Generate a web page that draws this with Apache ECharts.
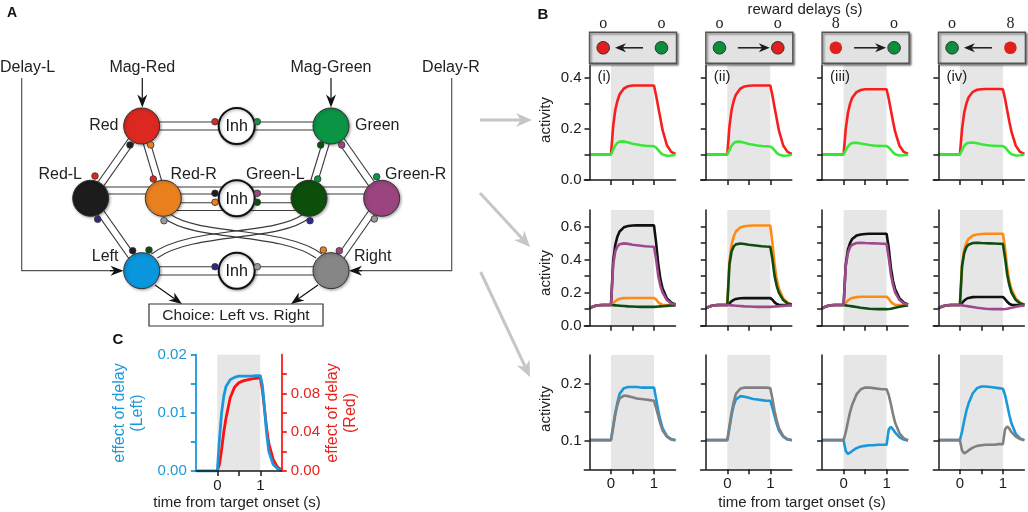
<!DOCTYPE html>
<html><head><meta charset="utf-8">
<script src="https://cdn.jsdelivr.net/npm/echarts@6/dist/echarts.min.js"></script>
<style>html,body{margin:0;padding:0;background:#fff}#c{width:1028px;height:512px}</style>
</head><body><div id="c"></div>
<script>
// ---------- data ----------
const T = [-0.5,-0.4,-0.3,-0.2,-0.1,0,0.05,0.1,0.15,0.2,0.3,0.4,0.5,0.6,0.7,0.8,0.9,1,1.05,1.1,1.15,1.2,1.3,1.4,1.5];

// Row 1 (Red / Green units)
const r1_red_i    = [0.1,0.1,0.1,0.1,0.1,0.1,0.21,0.275,0.31,0.335,0.358,0.367,0.37,0.37,0.37,0.37,0.37,0.37,0.33,0.285,0.24,0.195,0.136,0.11,0.102];
const r1_green_i  = [0.1,0.1,0.1,0.1,0.1,0.1,0.118,0.135,0.145,0.15,0.151,0.147,0.142,0.139,0.136,0.134,0.133,0.132,0.127,0.117,0.107,0.1,0.095,0.096,0.099];
const r1_red_ii   = [0.1,0.1,0.1,0.1,0.1,0.1,0.21,0.274,0.31,0.334,0.357,0.366,0.369,0.37,0.37,0.37,0.37,0.37,0.33,0.284,0.239,0.194,0.135,0.11,0.102];
const r1_green_ii = [0.1,0.1,0.1,0.1,0.1,0.1,0.117,0.134,0.144,0.149,0.15,0.146,0.141,0.138,0.135,0.133,0.132,0.131,0.126,0.116,0.106,0.1,0.095,0.096,0.099];
const r1_red_iii  = [0.1,0.1,0.1,0.1,0.1,0.1,0.2,0.262,0.298,0.322,0.344,0.352,0.355,0.355,0.355,0.355,0.355,0.355,0.318,0.273,0.228,0.188,0.134,0.11,0.102];
const r1_green_iii= [0.1,0.1,0.1,0.1,0.1,0.1,0.116,0.131,0.14,0.145,0.146,0.143,0.14,0.137,0.135,0.134,0.133,0.133,0.128,0.118,0.108,0.101,0.096,0.097,0.099];
const r1_red_iv   = [0.1,0.1,0.1,0.1,0.1,0.1,0.2,0.263,0.299,0.323,0.345,0.353,0.355,0.356,0.356,0.356,0.356,0.355,0.318,0.273,0.228,0.188,0.134,0.11,0.102];
const r1_green_iv = [0.1,0.1,0.1,0.1,0.1,0.1,0.117,0.133,0.142,0.146,0.147,0.144,0.14,0.137,0.135,0.134,0.133,0.133,0.128,0.118,0.108,0.101,0.096,0.097,0.099];

// Row 2 (Red-L black, Red-R orange, Green-L dark green, Green-R purple)
const r2_black_i    = [0.105,0.118,0.124,0.125,0.125,0.125,0.39,0.49,0.54,0.57,0.595,0.603,0.606,0.607,0.607,0.607,0.607,0.607,0.5,0.37,0.28,0.225,0.165,0.14,0.128];
const r2_orange_i   = [0.105,0.118,0.124,0.125,0.125,0.125,0.135,0.148,0.157,0.163,0.167,0.168,0.168,0.168,0.168,0.168,0.168,0.168,0.158,0.142,0.132,0.127,0.125,0.125,0.125];
const r2_dkgreen_i  = [0.105,0.118,0.124,0.125,0.125,0.125,0.124,0.123,0.122,0.121,0.119,0.117,0.116,0.115,0.114,0.114,0.114,0.114,0.115,0.116,0.117,0.118,0.12,0.122,0.123];
const r2_purple_i   = [0.105,0.118,0.124,0.125,0.125,0.125,0.37,0.45,0.48,0.493,0.498,0.495,0.49,0.487,0.484,0.481,0.479,0.478,0.4,0.3,0.24,0.2,0.155,0.135,0.128];
const r2_black_ii   = [0.105,0.118,0.124,0.125,0.125,0.125,0.135,0.148,0.156,0.162,0.166,0.167,0.167,0.167,0.167,0.167,0.167,0.167,0.157,0.141,0.131,0.127,0.125,0.125,0.125];
const r2_orange_ii  = [0.105,0.118,0.124,0.125,0.125,0.125,0.39,0.49,0.54,0.57,0.594,0.602,0.605,0.606,0.606,0.606,0.606,0.606,0.5,0.37,0.28,0.225,0.165,0.14,0.128];
const r2_dkgreen_ii = [0.105,0.118,0.124,0.125,0.125,0.125,0.37,0.45,0.48,0.492,0.497,0.494,0.49,0.487,0.484,0.481,0.479,0.478,0.4,0.3,0.24,0.2,0.155,0.135,0.128];
const r2_purple_ii  = [0.105,0.118,0.124,0.125,0.125,0.125,0.124,0.123,0.122,0.121,0.119,0.117,0.116,0.115,0.114,0.114,0.114,0.114,0.115,0.116,0.117,0.118,0.12,0.122,0.123];
const r2_black_iii  = [0.105,0.118,0.124,0.125,0.125,0.125,0.37,0.46,0.5,0.525,0.545,0.552,0.555,0.556,0.556,0.556,0.556,0.556,0.47,0.35,0.27,0.22,0.165,0.14,0.128];
const r2_orange_iii = [0.105,0.118,0.124,0.125,0.125,0.125,0.138,0.152,0.162,0.168,0.173,0.175,0.175,0.175,0.175,0.175,0.175,0.175,0.163,0.145,0.133,0.127,0.125,0.125,0.125];
const r2_dkgreen_iii= [0.105,0.118,0.124,0.125,0.125,0.125,0.123,0.121,0.119,0.117,0.113,0.109,0.106,0.103,0.101,0.1,0.1,0.1,0.101,0.103,0.106,0.109,0.115,0.119,0.122];
const r2_purple_iii = [0.105,0.118,0.124,0.125,0.125,0.125,0.36,0.44,0.475,0.49,0.5,0.502,0.5,0.499,0.498,0.497,0.496,0.495,0.41,0.31,0.245,0.2,0.155,0.135,0.127];
const r2_black_iv   = [0.105,0.118,0.124,0.125,0.125,0.125,0.138,0.152,0.162,0.168,0.173,0.174,0.174,0.174,0.174,0.174,0.174,0.174,0.162,0.145,0.133,0.127,0.125,0.125,0.125];
const r2_orange_iv  = [0.105,0.118,0.124,0.125,0.125,0.125,0.37,0.46,0.5,0.525,0.545,0.552,0.555,0.556,0.556,0.556,0.556,0.556,0.47,0.35,0.27,0.22,0.165,0.14,0.128];
const r2_dkgreen_iv = [0.105,0.118,0.124,0.125,0.125,0.125,0.36,0.44,0.475,0.49,0.5,0.502,0.5,0.499,0.498,0.497,0.496,0.495,0.41,0.31,0.245,0.2,0.155,0.135,0.127];
const r2_purple_iv  = [0.105,0.118,0.124,0.125,0.125,0.125,0.123,0.121,0.119,0.117,0.113,0.109,0.106,0.103,0.101,0.1,0.1,0.1,0.101,0.103,0.106,0.109,0.115,0.119,0.122];

// Row 3 (Left blue, Right gray)
const r3_blue_i   = [0.101,0.101,0.101,0.101,0.101,0.101,0.126,0.149,0.167,0.182,0.192,0.194,0.194,0.194,0.193,0.193,0.193,0.193,0.173,0.152,0.135,0.122,0.108,0.103,0.101];
const r3_gray_i   = [0.101,0.101,0.101,0.101,0.101,0.101,0.123,0.146,0.163,0.174,0.179,0.178,0.176,0.174,0.173,0.172,0.171,0.17,0.157,0.143,0.129,0.118,0.107,0.102,0.101];
const r3_blue_ii  = [0.101,0.101,0.101,0.101,0.101,0.101,0.122,0.145,0.162,0.172,0.178,0.177,0.175,0.173,0.172,0.171,0.17,0.17,0.157,0.143,0.129,0.118,0.107,0.102,0.101];
const r3_gray_ii  = [0.101,0.101,0.101,0.101,0.101,0.101,0.126,0.15,0.168,0.182,0.191,0.193,0.193,0.193,0.193,0.193,0.193,0.192,0.173,0.152,0.135,0.122,0.108,0.103,0.101];
const r3_blue_iii = [0.101,0.101,0.101,0.101,0.101,0.101,0.082,0.077,0.079,0.082,0.087,0.09,0.091,0.092,0.092,0.093,0.093,0.093,0.12,0.124,0.12,0.114,0.106,0.102,0.1];
const r3_gray_iii = [0.101,0.101,0.101,0.101,0.101,0.101,0.115,0.133,0.15,0.163,0.181,0.19,0.193,0.193,0.192,0.191,0.19,0.19,0.18,0.164,0.146,0.131,0.113,0.104,0.101];
const r3_blue_iv  = [0.101,0.101,0.101,0.101,0.101,0.101,0.116,0.135,0.152,0.165,0.183,0.192,0.195,0.195,0.194,0.193,0.192,0.191,0.18,0.163,0.145,0.13,0.112,0.104,0.101];
const r3_gray_iv  = [0.101,0.101,0.101,0.101,0.101,0.101,0.083,0.078,0.08,0.083,0.088,0.091,0.092,0.093,0.093,0.093,0.094,0.094,0.12,0.125,0.121,0.115,0.107,0.103,0.101];

// Panel C
const c_blue = [0,0,0,0,0,0,0.0055,0.01,0.0128,0.0145,0.0157,0.0161,0.0163,0.0163,0.0163,0.0163,0.0164,0.0164,0.0147,0.0106,0.0062,0.0033,0.0011,0.0004,0.0001];
const c_red  = [null,null,null,null,null,0,0.007,0.022,0.04,0.054,0.0755,0.0865,0.091,0.093,0.094,0.095,0.0955,0.096,0.083,0.063,0.043,0.028,0.012,0.004,0.001];

// tick labels
const xTicks = [0,0.5,1];
const xLabels = [0,1];
const yTicksRow1 = [0,0.1,0.2,0.3,0.4];  const yLabelsRow1 = [0,0.2,0.4];
const yTicksRow2 = [0,0.1,0.2,0.3,0.4,0.5,0.6]; const yLabelsRow2 = [0,0.2,0.4,0.6];
const yTicksRow3 = [0.1,0.15,0.2]; const yLabelsRow3 = [0.1,0.2];
const cLeftTicks = [0,0.005,0.01,0.015,0.02]; const cLeftLabels = [0,0.01,0.02];
const cRightTicks = [0,0.02,0.04,0.06,0.08,0.1]; const cRightLabels = [0,0.04,0.08];
const panelNames = ['(i)','(ii)','(iii)','(iv)'];
const delayLeft = ['o','o','8','o'];
const delayRight = ['o','o','o','8'];

// ---------- styles / layout ----------
const RED='#f81e1e', LIME='#3be63b', BLACK='#111111', ORANGE='#ff8c12', DKGREEN='#0f4c10', PURPLE='#9c4a8d', BLUE='#1a98da', GRAY='#808080', SHADE='#e6e6e6', AX='#1a1a1a';
const FONT='"Liberation Sans", Arial, sans-serif';
const colLeft=[589.5,705.8,822.1,938.4];
const PX=43, XMIN=-0.62, XMAX=1.5, YOFF=-(0.12*PX);
const rows=[{top:65,h:115,min:0,max:0.45,ticks:yTicksRow1,labels:yLabelsRow1},
            {top:210,h:115.7,min:0,max:0.7,ticks:yTicksRow2,labels:yLabelsRow2},
            {top:355,h:114.3,min:0.05,max:0.25,ticks:yTicksRow3,labels:yLabelsRow3}];
const panelSeries=[
 [[r1_red_i,RED],[r1_green_i,LIME]],[[r1_red_ii,RED],[r1_green_ii,LIME]],[[r1_red_iii,RED],[r1_green_iii,LIME]],[[r1_red_iv,RED],[r1_green_iv,LIME]],
 [[r2_black_i,BLACK],[r2_orange_i,ORANGE],[r2_dkgreen_i,DKGREEN],[r2_purple_i,PURPLE]],
 [[r2_black_ii,BLACK],[r2_orange_ii,ORANGE],[r2_dkgreen_ii,DKGREEN],[r2_purple_ii,PURPLE]],
 [[r2_black_iii,BLACK],[r2_orange_iii,ORANGE],[r2_dkgreen_iii,DKGREEN],[r2_purple_iii,PURPLE]],
 [[r2_black_iv,BLACK],[r2_orange_iv,ORANGE],[r2_dkgreen_iv,DKGREEN],[r2_purple_iv,PURPLE]],
 [[r3_blue_i,BLUE],[r3_gray_i,GRAY]],[[r3_blue_ii,BLUE],[r3_gray_ii,GRAY]],[[r3_blue_iii,BLUE],[r3_gray_iii,GRAY]],[[r3_blue_iv,BLUE],[r3_gray_iv,GRAY]]
];

const grid=[], xAxis=[], yAxis=[], series=[];
const lineS={color:AX,width:1.5};
for(let r=0;r<3;r++){ for(let c=0;c<4;c++){
  const k=r*4+c, R=rows[r];
  grid.push({left:colLeft[c]+XMIN*PX+0.5*PX, top:R.top, width:(XMAX-XMIN)*PX, height:R.h, outerBoundsMode:'none', containLabel:false});
  xAxis.push({gridIndex:k,type:'value',min:XMIN,max:XMAX,z:5,axisLine:{onZero:false,lineStyle:lineS},
    axisTick:{show:true,length:5,customValues:xTicks,lineStyle:lineS},
    axisLabel:{show:r===2,customValues:xLabels,formatter:v=>String(v),fontSize:15,color:AX,margin:7,fontFamily:FONT},splitLine:{show:false}});
  yAxis.push({gridIndex:k,type:'value',min:R.min,max:R.max,offset:YOFF,z:5,axisLine:{show:true,onZero:false,lineStyle:lineS},
    axisTick:{show:true,length:5,customValues:R.ticks,lineStyle:lineS},
    axisLabel:{show:c===0,customValues:R.labels,formatter:v=>v.toFixed(1),fontSize:15,color:AX,margin:8,fontFamily:FONT},splitLine:{show:false}});
  panelSeries[k].forEach(([arr,col],j)=>{
    const s={type:'line',xAxisIndex:k,yAxisIndex:k,data:T.map((t,i)=>[t,arr[i]]),showSymbol:false,symbol:'none',silent:true,z:3,
      lineStyle:{width:2.6,color:col},itemStyle:{color:col}};
    if(j===0) s.markArea={silent:true,itemStyle:{color:SHADE},data:[[{xAxis:0},{xAxis:1}]]};
    series.push(s);
  });
}}
// Panel C
grid.push({left:195.8,top:354.7,width:86,height:116.3,outerBoundsMode:'none',containLabel:false});
xAxis.push({gridIndex:12,type:'value',min:-0.5,max:1.5,z:5,axisLine:{onZero:false,lineStyle:lineS},
  axisTick:{length:5,customValues:xTicks,lineStyle:lineS},
  axisLabel:{customValues:xLabels,formatter:v=>String(v),fontSize:15,color:AX,margin:7,fontFamily:FONT},splitLine:{show:false}});
yAxis.push({gridIndex:12,type:'value',position:'left',min:0,max:0.02,z:5,axisLine:{show:true,onZero:false,lineStyle:{color:BLUE,width:1.8}},
  axisTick:{length:5,customValues:cLeftTicks,lineStyle:{color:BLUE,width:1.8}},
  axisLabel:{customValues:cLeftLabels,formatter:v=>v.toFixed(2),fontSize:15,color:BLUE,margin:9,fontFamily:FONT},splitLine:{show:false}});
yAxis.push({gridIndex:12,type:'value',position:'right',min:0,max:0.12,z:5,axisLine:{show:true,onZero:false,lineStyle:{color:RED,width:1.8}},
  axisTick:{length:5,customValues:cRightTicks,lineStyle:{color:RED,width:1.8}},
  axisLabel:{customValues:cRightLabels,formatter:v=>v.toFixed(2),fontSize:15,color:'#e8221c',margin:9,fontFamily:FONT},splitLine:{show:false}});
series.push({type:'line',xAxisIndex:12,yAxisIndex:13,data:T.map((t,i)=>[t,c_red[i]]),showSymbol:false,symbol:'none',silent:true,z:3,
  lineStyle:{width:2.8,color:'#ff1010'},markArea:{silent:true,itemStyle:{color:SHADE},data:[[{xAxis:0},{xAxis:1}]]}});
series.push({type:'line',xAxisIndex:12,yAxisIndex:12,data:T.map((t,i)=>[t,c_blue[i]]),showSymbol:false,symbol:'none',silent:true,z:4,
  lineStyle:{width:2.8,color:BLUE}});

// ---------- graphics ----------
const els=[];
function txt(x,y,s,o){o=o||{};const a=o.align||'center';
  els.push({type:'text',x:x,y:y,rotation:o.rot||0,z:o.z||20,silent:true,
    style:{text:s,fill:o.color||'#222',font:(o.weight||'normal')+' '+(o.size||15)+'px '+(o.family||FONT),
      align:a,textAlign:a,verticalAlign:'middle',textVerticalAlign:'middle',lineHeight:o.lh||undefined}});}
function ln(x1,y1,x2,y2,c,w,z){els.push({type:'line',silent:true,z:z||2,shape:{x1,y1,x2,y2},style:{stroke:c||'#333',lineWidth:w||1.1}});}
function circ(cx,cy,r,fill,stroke,w,z,shadow){const st={fill:fill,stroke:stroke||null,lineWidth:w||1};
  if(shadow){st.shadowBlur=3;st.shadowColor='rgba(0,0,0,0.35)';st.shadowOffsetX=1;st.shadowOffsetY=1;}
  els.push({type:'circle',silent:true,z:z||5,shape:{cx,cy,r},style:st});}
function arrow(x1,y1,x2,y2,c,w,hl,hw,z){const a=Math.atan2(y2-y1,x2-x1),ca=Math.cos(a),sa=Math.sin(a);
  const bx=x2-hl*ca,by=y2-hl*sa,px=-sa*hw/2,py=ca*hw/2,nx=x2-hl*0.7*ca,ny=y2-hl*0.7*sa;
  els.push({type:'line',silent:true,z:z||3,shape:{x1,y1,x2:nx,y2:ny},style:{stroke:c,lineWidth:w}});
  els.push({type:'polygon',silent:true,z:z||3,shape:{points:[[x2,y2],[bx+px,by+py],[nx,ny],[bx-px,by-py]]},style:{fill:c}});}
function dbl(a,b,off,c){const dx=b[0]-a[0],dy=b[1]-a[1],L=Math.hypot(dx,dy),nx=-dy/L*off,ny=dx/L*off;
  ln(a[0]+nx,a[1]+ny,b[0]+nx,b[1]+ny,c);ln(a[0]-nx,a[1]-ny,b[0]-nx,b[1]-ny,c);}
function bez(p,c){els.push({type:'bezierCurve',silent:true,z:2,shape:{x1:p[0],y1:p[1],cpx1:p[2],cpy1:p[3],cpx2:p[4],cpy2:p[5],x2:p[6],y2:p[7]},style:{stroke:c||'#333',lineWidth:1.1,fill:'none'}});}

// Panel labels
txt(12,13,'A',{weight:'bold',size:14,color:'#111'});
txt(543,15,'B',{weight:'bold',size:15,color:'#111'});
txt(118,340,'C',{weight:'bold',size:15,color:'#111'});

// ----- Panel A network -----
const N={red:[141.7,126],green:[331,126],inh1:[236.7,126],redL:[90.7,198.3],redR:[163.3,198.3],inh2:[236.7,198.3],
  greenL:[309,198.3],greenR:[381.7,198.3],left:[141.7,270.7],inh3:[236.7,270.7],right:[331,270.7]};
const NC={red:'#dc2820',green:'#0a9444',redL:'#1c1c1c',redR:'#e8801e',greenL:'#0b4f0b',greenR:'#9a4580',left:'#0a96dc',right:'#868686'};
const LC='#3a3a3a';
// horizontal connections
ln(N.red[0],122,N.green[0],122,LC);ln(N.red[0],130,N.green[0],130,LC);
ln(N.redL[0],187,N.greenR[0],187,LC);ln(N.redL[0],194,N.greenR[0],194,LC);
ln(N.redR[0],202.7,N.greenL[0],202.7,LC);ln(N.redR[0],210.5,N.greenL[0],210.5,LC);
ln(N.left[0],266.7,N.right[0],266.7,LC);ln(N.left[0],275,N.right[0],275,LC);
// diagonals
dbl(N.red,N.redL,3.5,LC);dbl(N.red,N.redR,3.5,LC);dbl(N.green,N.greenL,3.5,LC);dbl(N.green,N.greenR,3.5,LC);
dbl(N.redL,N.left,3.5,LC);dbl(N.greenR,N.right,3.5,LC);
// crossing curves
bez([170,214,200,236,285,226,322,254],LC);bez([164,218,194,242,279,232,316,258],LC);
bez([303.4,214,273.4,236,188.4,226,151.4,254],LC);bez([309.4,218,279.4,242,194.4,232,157.4,258],LC);
// external inputs
els.push({type:'polyline',silent:true,z:2,shape:{points:[[21.7,78],[21.7,270.7],[118,270.7]]},style:{stroke:'#555',lineWidth:1.2,fill:'none'}});
arrow(110,270.7,123.5,270.7,'#111',1.2,13,10);
els.push({type:'polyline',silent:true,z:2,shape:{points:[[451.7,78],[451.7,270.7],[356,270.7]]},style:{stroke:'#555',lineWidth:1.2,fill:'none'}});
arrow(362,270.7,349,270.7,'#111',1.2,13,10);
arrow(142.3,78,142.3,107.5,'#111',1.2,13,10);
arrow(331,78,331,107.5,'#111',1.2,13,10);
// choice
els.push({type:'rect',silent:true,z:4,shape:{x:149,y:304,width:174,height:22},style:{fill:'#fff',stroke:'#333',lineWidth:1.2}});
txt(236,315.5,'Choice: Left vs. Right',{size:15.5});
arrow(155,285,182,304,'#111',1.2,13,10);
arrow(318,285,291,304,'#111',1.2,13,10);
// circles
Object.keys(NC).forEach(k=>circ(N[k][0],N[k][1],18,NC[k],'#333',1,5,true));
['inh1','inh2','inh3'].forEach(k=>{circ(N[k][0],N[k][1],18,'#fff','#111',2,5,true);txt(N[k][0],N[k][1]+1,'Inh',{size:16,color:'#111'});});
// small synapse dots
[[215,121.7,NC.red],[257.3,121.7,NC.green],[215,193.3,NC.redL],[215,202.3,NC.redR],[257.3,193.3,NC.greenR],[257.3,202.3,NC.greenL],
 [215,266.7,'#2b2b85'],[257.3,266.7,'#9a9a9a'],[130,145,NC.redL],[95,176,NC.red],[150.7,145,NC.redR],[153.3,179,NC.red],
 [320.7,145,NC.greenL],[317.7,179,NC.green],[341.7,145,NC.greenR],[376.7,176.7,NC.green],[97.7,219.3,'#2b2b85'],[132.7,250.7,NC.redL],
 [374.3,219,'#9a9a9a'],[339.3,250.7,NC.greenR],[164,220.7,'#9a9a9a'],[323.3,250,NC.redR],[310,220.7,'#2b2b85'],[149,250,NC.greenL]
].forEach(d=>circ(d[0],d[1],3.3,d[2],'#333',0.8,7,false));
// labels
txt(0,68,'Delay-L',{align:'left',size:16});txt(142.3,68,'Mag-Red',{size:16});txt(331,68,'Mag-Green',{size:16});txt(451,68,'Delay-R',{size:16});
txt(118.5,126,'Red',{align:'right',size:16});txt(355,126,'Green',{align:'left',size:16});
txt(82,175,'Red-L',{align:'right',size:16});txt(170.5,175,'Red-R',{align:'left',size:16});
txt(246,175,'Green-L',{align:'left',size:16});txt(385,175,'Green-R',{align:'left',size:16});
txt(118.5,257,'Left',{align:'right',size:16});txt(354,257,'Right',{align:'left',size:16});

// gray arrows A -> B
arrow(480,120,532,120,'#c6c6c6',3,16,14,1);
arrow(480,193,530,247,'#c6c6c6',3,16,14,1);
arrow(480.7,272,530,377,'#c6c6c6',3,16,14,1);

// ----- Panel B headers -----
txt(805,9.5,'reward delays (s)',{size:15});
const boxCol=[['#e0201c','#0a8f3c'],['#0a8f3c','#e0201c'],['#e0201c','#0a8f3c'],['#0a8f3c','#e0201c']];
const boxOutline=[[true,true],[true,true],[false,true],[true,false]];
const boxDir=[-1,1,1,-1];
for(let c=0;c<4;c++){
  const x0=colLeft[c];
  els.push({type:'rect',silent:true,z:4,shape:{x:x0,y:32.3,width:87,height:31},style:{fill:'#e2e2e2',stroke:'#555',lineWidth:1.4,shadowBlur:2,shadowOffsetX:1.5,shadowOffsetY:1.5,shadowColor:'rgba(0,0,0,0.45)'}});
  circ(x0+13.7,47.8,6.3,boxCol[c][0],boxOutline[c][0]?'#333':null,1,6,false);
  circ(x0+72,47.8,6.3,boxCol[c][1],boxOutline[c][1]?'#333':null,1,6,false);
  if(boxDir[c]<0) arrow(x0+53.5,47.8,x0+25.5,47.8,'#1a1a1a',1.5,11,9,6); else arrow(x0+32,47.8,x0+64,47.8,'#1a1a1a',1.5,11,9,6);
  txt(x0+13.7,24,delayLeft[c],{size:16,family:'"Liberation Serif", serif',color:'#222'});
  txt(x0+72,24,delayRight[c],{size:16,family:'"Liberation Serif", serif',color:'#222'});
  txt(colLeft[c]+8,77,panelNames[c],{align:'left',size:15});
}
// axis titles
txt(546,120,'activity',{rot:Math.PI/2,size:15});
txt(546,273,'activity',{rot:Math.PI/2,size:15});
txt(546,409,'activity',{rot:Math.PI/2,size:15});
txt(802,503,'time from target onset (s)',{size:15});
txt(237,503,'time from target onset (s)',{size:15});
txt(129,413,'effect of delay\n(Left)',{rot:Math.PI/2,size:16,color:BLUE,lh:18});
txt(342,413,'effect of delay\n(Red)',{rot:Math.PI/2,size:16,color:'#e8221c',lh:18});

const chart=echarts.init(document.getElementById('c'),null,{renderer:'canvas'});
chart.setOption({animation:false,backgroundColor:'#fff',grid,xAxis,yAxis,series,graphic:{elements:els}});
</script></body></html>
